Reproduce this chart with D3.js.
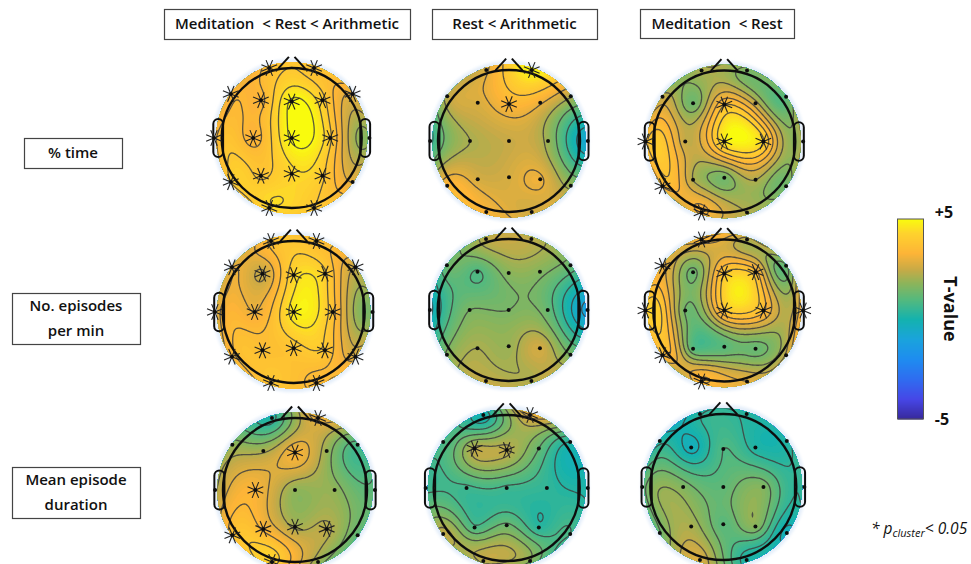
<!DOCTYPE html>
<html>
<head>
<meta charset="utf-8">
<script src="https://cdn.jsdelivr.net/npm/d3@7"></script>
<style>
  html, body { margin: 0; padding: 0; background: #fff; }
  svg { display: block; }
  text { font-family: "Open Sans", "Noto Sans", sans-serif; fill: #111; }
</style>
</head>
<body>
<svg id="chart" width="971" height="564"></svg>
<script>
// electrodes of the 10-20 montage, in head units (head radius = 1)
const electrodes = ["Fp1","Fp2","F7","F3","Fz","F4","F8","T3","C3","Cz","C4","T4","T5","P3","Pz","P4","T6","O1","O2"];
const electrodeX = [-.32,.32,-.87,-.44,0,.44,.87,-1.11,-.55,0,.55,1.11,-.87,-.44,0,.44,.87,-.32,.32];
const electrodeY = [-1,-1,-.63,-.54,-.52,-.54,-.63,0,0,0,0,0,.63,.54,.51,.54,.63,1,1];

// T-values, same order as electrodes
const timeAll     = [3.7,3.8,3.3,3.35,5.1,4.2,3.0,3.3,3.3,5.1,4.1,1.9,4.0,3.9,4.4,4.1,3.0,4.4,4.0];
const timeRA      = [2.9,5.0,2.4,2.8,3.4,3.1,2.3,0.4,2.2,2.55,2.0,-0.7,3.4,2.75,2.75,3.1,2.0,3.3,2.7];
const timeMR      = [2.2,1.6,2.5,1.4,3.75,2.5,1.3,3.6,2.5,4.7,4.35,2.4,3.3,2.3,1.5,2.3,1.5,3.4,2.3];
const episodesAll = [3.7,3.7,3.0,2.5,4.4,4.2,2.6,2.7,3.1,4.8,3.8,1.7,3.4,3.7,3.9,4.0,2.9,3.9,3.5];
const episodesRA  = [2.4,2.4,1.35,0.95,1.8,1.75,1.35,-0.4,1.6,1.6,1.3,-1.0,1.7,2.2,2.0,2.7,1.6,2.5,2.3];
const episodesMR  = [3.3,2.3,3.1,1.35,4.0,3.7,1.4,4.2,1.45,3.9,3.6,3.6,3.5,1.1,1.1,1.3,2.6,3.5,3.0];
const durationAll = [0.3,3.1,1.9,2.2,3.3,2.0,0.9,2.2,3.3,1.9,1.9,1.2,3.7,3.4,2.2,2.4,1.2,4.3,2.0];
const durationRA  = [0.0,3.0,0.9,2.4,2.4,1.3,0.3,0.7,0.7,0.7,0.5,0.2,2.5,0.9,1.4,0.4,0.8,2.4,1.8];
const durationMR  = [0.4,0.35,0.3,-0.25,0.95,0.25,0.3,1.2,1.7,1.2,1.7,0.6,1.4,2.2,1.1,1.8,-0.2,2.8,0.2];

// contour levels of each map
const levelsTimeAll     = [2.0,2.5,3.0,3.5,4.0,4.5,5.0];
const levelsTimeRA      = [-0.2,0.6,1.4,2.2,3.0,3.8];
const levelsTimeMR      = [1.8,2.3,2.8,3.3,3.8,4.3];
const levelsEpisodesAll = [2.1,2.6,3.1,3.6,4.1,4.6];
const levelsEpisodesRA  = [-0.8,-0.2,0.4,1.0,1.6,2.2];
const levelsEpisodesMR  = [1.5,2.0,2.5,3.0,3.5,4.0];
const levelsDurationAll = [0.5,1.1,1.7,2.3,2.9,3.5,4.1];
const levelsDurationRA  = [-0.2,0.3,0.8,1.3,1.8,2.3,2.8];
const levelsDurationMR  = [-0.05,0.45,0.95,1.45,1.95,2.45];

// electrodes that reach significance on each map
const sigTimeAll     = ["Fp1","Fp2","F7","F3","Fz","F4","F8","T3","C3","Cz","C4","T5","P3","Pz","P4","O1","O2"];
const sigTimeRA      = ["Fp2","Fz"];
const sigTimeMR      = ["Fz","T3","Cz","C4","T5","O1"];
const sigEpisodesAll = ["Fp1","Fp2","F7","F3","Fz","F4","F8","T3","C3","Cz","C4","T5","P3","Pz","P4","T6","O1","O2"];
const sigEpisodesRA  = [];
const sigEpisodesMR  = ["Fp1","F7","Fz","F4","T3","Cz","C4","T4","T5","O1"];
const sigDurationAll = ["Fp2","Fz","C3","T5","P3","Pz","P4","O1"];
const sigDurationRA  = ["Fp2","F3","Fz"];
const sigDurationMR  = [];

const columnLabels = ["Meditation  < Rest < Arithmetic", "Rest < Arithmetic", "Meditation  < Rest"];
const rowLabels = [["% time"], ["No. episodes", "per min"], ["Mean episode", "duration"]];
const colorbarTicks = [5, -5];

// colormap stops (T-value -> colour)
const colorDomain = [-5, -4, -3, -2, -1, 0, 1, 1.8, 2.5, 3.3, 4.3, 5];
const colorRange = ["#37289a","#4646e6","#2f6cf0","#1e8cf0","#1aa3dc","#14b2ae","#55b97d","#8cb45a","#c8aa46","#fdb437","#fed22d","#f9fb0e"];
const color = d3.scaleLinear().domain(colorDomain).range(colorRange).clamp(true);

const svg = d3.select("#chart");

const maps = [
  { cx: 291.7, cy: 138,   r: 70, values: timeAll,     sig: sigTimeAll,     levels: levelsTimeAll },
  { cx: 509,   cy: 141,   r: 71, values: timeRA,      sig: sigTimeRA,      levels: levelsTimeRA },
  { cx: 724.3, cy: 141.5, r: 71, values: timeMR,      sig: sigTimeMR,      levels: levelsTimeMR },
  { cx: 293.7, cy: 312,   r: 71, values: episodesAll, sig: sigEpisodesAll, levels: levelsEpisodesAll },
  { cx: 508.7, cy: 310,   r: 71, values: episodesRA,  sig: sigEpisodesRA,  levels: levelsEpisodesRA },
  { cx: 724.3, cy: 310.5, r: 71, values: episodesMR,  sig: sigEpisodesMR,  levels: levelsEpisodesMR },
  { cx: 295,   cy: 490,   r: 72, values: durationAll, sig: sigDurationAll, levels: levelsDurationAll },
  { cx: 506.7, cy: 488,   r: 73, values: durationRA,  sig: sigDurationRA,  levels: levelsDurationRA },
  { cx: 723.3, cy: 487,   r: 73, values: durationMR,  sig: sigDurationMR,  levels: levelsDurationMR }
];

// the picture is a little soft
const defs = svg.append("defs");
defs.append("filter").attr("id", "soft")
  .append("feGaussianBlur").attr("stdDeviation", 0.5);
defs.append("filter").attr("id", "softer")
  .append("feGaussianBlur").attr("stdDeviation", 1.5);

// biharmonic spline, same idea as griddata v4 used by topoplot
function green(d) {
  return d < 1e-9 ? 0 : d * d * (Math.log(d) - 1);
}

function solve(A, b) {
  const n = b.length;
  const M = A.map((row, i) => [...row, b[i]]);
  for (let i = 0; i < n; i++) {
    let p = i;
    for (let k = i + 1; k < n; k++) if (Math.abs(M[k][i]) > Math.abs(M[p][i])) p = k;
    [M[i], M[p]] = [M[p], M[i]];
    for (let k = i + 1; k < n; k++) {
      const f = M[k][i] / M[i][i];
      for (let j = i; j <= n; j++) M[k][j] -= f * M[i][j];
    }
  }
  const w = new Array(n).fill(0);
  for (let i = n - 1; i >= 0; i--) {
    let s = M[i][n];
    for (let j = i + 1; j < n; j++) s -= M[i][j] * w[j];
    w[i] = s / M[i][i];
  }
  return w;
}

const A = electrodes.map((_, i) => electrodes.map((_, j) =>
  green(Math.hypot(electrodeX[i] - electrodeX[j], electrodeY[i] - electrodeY[j]))));

const gridSize = 121, gridExtent = 1.2;
const gridToUnit = d3.scaleLinear().domain([0, gridSize - 1]).range([-gridExtent, gridExtent]);

function fieldOf(values) {
  const w = solve(A, values);
  const grid = new Float64Array(gridSize * gridSize);
  for (let j = 0; j < gridSize; j++) {
    for (let i = 0; i < gridSize; i++) {
      const x = gridToUnit(i), y = gridToUnit(j);
      let s = 0;
      for (let k = 0; k < w.length; k++) s += w[k] * green(Math.hypot(x - electrodeX[k], y - electrodeY[k]));
      grid[j * gridSize + i] = s;
    }
  }
  return grid;
}

const fillLevels = d3.range(-8, 9, 0.1);
const diskRadius = 1.08, haloRadius = 1.13;

maps.forEach((m, idx) => {
  const x = d3.scaleLinear().domain([-1, 1]).range([m.cx - m.r, m.cx + m.r]);
  const y = d3.scaleLinear().domain([-1, 1]).range([m.cy - m.r, m.cy + m.r]);
  const len = d => d * m.r;

  const field = fieldOf(m.values);
  const contours = d3.contours().size([gridSize, gridSize]);
  // contour coordinates -> page pixels
  const cell = len(2 * gridExtent / (gridSize - 1));
  const toPage = d3.geoIdentity()
    .scale(cell)
    .translate([x(-gridExtent) - cell * 0.5, y(-gridExtent) - cell * 0.5]);
  const path = d3.geoPath(toPage);

  defs.append("clipPath").attr("id", `disk${idx}`)
    .append("circle").attr("cx", x(0)).attr("cy", y(0)).attr("r", len(diskRadius));

  svg.append("circle").attr("cx", x(0)).attr("cy", y(0)).attr("r", len(haloRadius))
    .attr("fill", "#e4eefa").attr("filter", "url(#softer)");

  const g = svg.append("g").attr("filter", "url(#soft)");

  const clipped = g.append("g").attr("clip-path", `url(#disk${idx})`);
  clipped.selectAll("path.band")
    .data(contours.thresholds(fillLevels)(field))
    .enter().append("path")
    .attr("class", "band")
    .attr("d", path)
    .attr("fill", d => color(d.value));
  clipped.selectAll("path.iso")
    .data(contours.thresholds(m.levels)(field))
    .enter().append("path")
    .attr("class", "iso")
    .attr("d", path)
    .attr("fill", "none")
    .attr("stroke", "#3f3f3f")
    .attr("stroke-opacity", 0.85)
    .attr("stroke-width", 1.3);

  // head outline, nose, ears
  g.append("circle").attr("cx", x(0)).attr("cy", y(0)).attr("r", len(1))
    .attr("fill", "none").attr("stroke", "#111").attr("stroke-width", 2.4);
  [-1, 1].forEach(s => {
    g.append("path")
      .attr("d", d3.line()([[x(s * 0.19), y(-0.995)], [x(s * 0.04), y(-1.16)]]))
      .attr("fill", "none").attr("stroke", "#111").attr("stroke-width", 2);
    g.append("rect")
      .attr("x", s < 0 ? x(-1.12) : x(0.98))
      .attr("y", y(-0.27))
      .attr("width", len(0.14))
      .attr("height", len(0.54))
      .attr("rx", 5)
      .attr("fill", "none").attr("stroke", "#111").attr("stroke-width", 2);
  });

  // electrodes
  electrodes.forEach((name, i) => {
    const ex = x(electrodeX[i]), ey = y(electrodeY[i]);
    if (m.sig.includes(name)) {
      d3.range(4).forEach(k => {
        const a = k * Math.PI / 4 + Math.PI / 8, L = 8.5;
        g.append("line")
          .attr("x1", ex - L * Math.cos(a)).attr("y1", ey - L * Math.sin(a))
          .attr("x2", ex + L * Math.cos(a)).attr("y2", ey + L * Math.sin(a))
          .attr("stroke", "#222").attr("stroke-width", 1.1);
      });
    }
    g.append("circle").attr("cx", ex).attr("cy", ey).attr("r", 2).attr("fill", "#111");
  });
});

// boxed labels
function boxLabel(x0, y0, x1, y1, lines, size) {
  svg.append("rect")
    .attr("x", x0 + 0.5).attr("y", y0 + 0.5)
    .attr("width", x1 - x0).attr("height", y1 - y0)
    .attr("fill", "#fff").attr("stroke", "#444").attr("stroke-width", 1.2);
  const mid = (y0 + y1) / 2, step = 25;
  lines.forEach((t, i) => {
    svg.append("text")
      .attr("x", (x0 + x1) / 2)
      .attr("y", mid + (i - (lines.length - 1) / 2) * step + 5)
      .attr("text-anchor", "middle")
      .attr("font-size", size)
      .attr("font-weight", 600)
      .style("white-space", "pre")
      .text(t);
  });
}

boxLabel(164, 9, 410, 39, [columnLabels[0]], 15);
boxLabel(432, 9, 597, 39, [columnLabels[1]], 15);
boxLabel(640, 9, 794, 38, [columnLabels[2]], 15);
boxLabel(24, 138, 122, 168, rowLabels[0], 15);
boxLabel(12, 293, 140, 344, rowLabels[1], 15);
boxLabel(12, 467, 140, 518, rowLabels[2], 15);

// colour bar
const barY = d3.scaleLinear().domain([5, -5]).range([219, 419]);
svg.selectAll("rect.bar")
  .data(d3.range(5, -5, -0.05))
  .enter().append("rect")
  .attr("class", "bar")
  .attr("x", 898).attr("width", 25)
  .attr("y", d => barY(d))
  .attr("height", barY(0) - barY(0.05) + 0.5)
  .attr("fill", d => color(d));
svg.append("rect")
  .attr("x", 897.5).attr("y", 219).attr("width", 26).attr("height", 200)
  .attr("fill", "none").attr("stroke", "#555").attr("stroke-width", 1);

svg.selectAll("text.tick")
  .data(colorbarTicks)
  .enter().append("text")
  .attr("class", "tick")
  .attr("x", d => d > 0 ? 944 : 942)
  .attr("y", d => barY(d) + (d > 0 ? -1 : 6))
  .attr("text-anchor", "middle")
  .attr("font-size", 16).attr("font-weight", 700)
  .text(d => d > 0 ? `+${d}` : `-${-d}`);

svg.append("text")
  .attr("transform", "translate(944,309) rotate(90)")
  .attr("text-anchor", "middle")
  .attr("font-size", 18).attr("font-weight", 700)
  .text("T-value");

// significance note
const note = svg.append("text")
  .attr("x", 871).attr("y", 534)
  .attr("font-size", 15.5).attr("font-style", "italic");
note.append("tspan").text("* p");
note.append("tspan").attr("dy", 3).attr("font-size", 11).text("cluster");
note.append("tspan").attr("dy", -3).text("< 0.05");
</script>
</body>
</html>
